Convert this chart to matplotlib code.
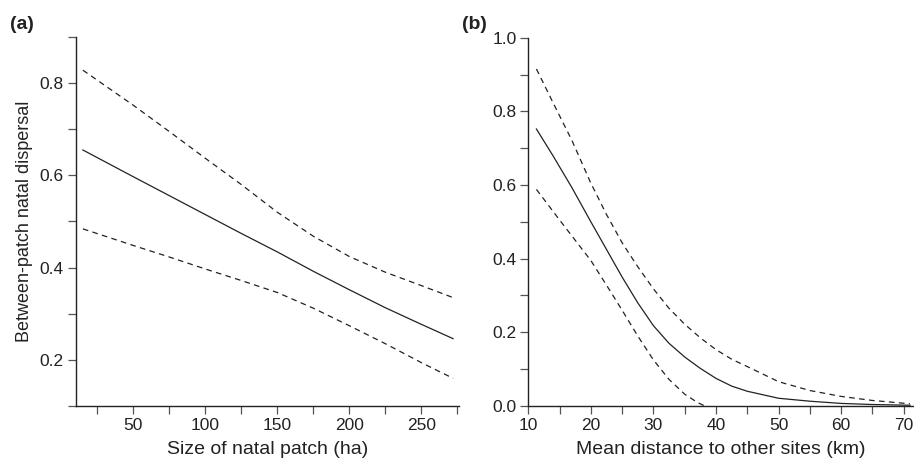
import numpy as np
import matplotlib.pyplot as plt
from matplotlib.ticker import MultipleLocator, FormatStrFormatter

plt.rcParams['font.family'] = ['Liberation Sans', 'DejaVu Sans']

# (a) patch size effect: fitted curve with upper / lower confidence limits
size_ha = np.array([15, 50, 75, 100, 125, 150, 175, 200, 225, 250, 272])
size_fit = np.array([0.655, 0.597, 0.556, 0.515, 0.474, 0.434, 0.392, 0.352, 0.313, 0.277, 0.246])
size_upper = np.array([0.828, 0.752, 0.695, 0.637, 0.58, 0.52, 0.468, 0.424, 0.39, 0.361, 0.335])
size_lower = np.array([0.484, 0.448, 0.423, 0.397, 0.372, 0.346, 0.312, 0.274, 0.235, 0.194, 0.160])

# (b) isolation effect
dist_km = np.array([11.3, 14, 17, 20, 22.5, 25, 27.5, 30, 32.5, 35, 37.5, 40, 42.5,
                    45, 50, 55, 60, 65, 71])
dist_fit = np.array([0.752, 0.678, 0.592, 0.50, 0.425, 0.35, 0.28, 0.218, 0.17, 0.133,
                     0.102, 0.075, 0.054, 0.04, 0.021, 0.013, 0.007, 0.004, 0.002])
dist_upper = np.array([0.915, 0.822, 0.72, 0.605, 0.52, 0.443, 0.378, 0.318, 0.265, 0.222,
                       0.185, 0.153, 0.127, 0.107, 0.066, 0.042, 0.026, 0.015, 0.006])
dist_lower_km = np.array([11.3, 13, 15, 17.5, 20, 22.5, 25, 27.5, 30, 32.5, 35, 37, 38.2])
dist_lower = np.array([0.588, 0.55, 0.505, 0.45, 0.395, 0.328, 0.26, 0.19, 0.125, 0.072,
                       0.032, 0.01, 0.0])

ink = '#222222'
lw = 0.9
dash = (4.5, 3.5)

fig = plt.figure(figsize=(9.14, 4.68), dpi=100)
ax1 = fig.add_axes([0.0828, 0.1325, 0.4192, 0.7885])
ax2 = fig.add_axes([0.578, 0.1325, 0.421, 0.787])

for ax in (ax1, ax2):
    for s in ('top', 'right'):
        ax.spines[s].set_visible(False)
    for s in ('left', 'bottom'):
        ax.spines[s].set_color(ink)
        ax.spines[s].set_linewidth(1.0)
    ax.tick_params(which='both', direction='out', length=5.5, width=0.9,
                   color='#555555', labelsize=12.5, labelcolor=ink, pad=3)

ax1.plot(size_ha, size_fit, color=ink, lw=lw)
ax1.plot(size_ha, size_upper, color=ink, lw=lw, ls=(0, dash))
ax1.plot(size_ha, size_lower, color=ink, lw=lw, ls=(0, dash))
ax1.set_xlim(10, 276)
ax1.set_ylim(0.1, 0.9)
ax1.xaxis.set_major_locator(MultipleLocator(50))
ax1.xaxis.set_minor_locator(MultipleLocator(25))
ax1.yaxis.set_major_locator(MultipleLocator(0.2))
ax1.yaxis.set_minor_locator(MultipleLocator(0.1))
ax1.yaxis.set_major_formatter(FormatStrFormatter('%.1f'))
ax1.set_xlabel('Size of natal patch (ha)', fontsize=14, color=ink, labelpad=6)
ax1.set_ylabel('Between-patch natal dispersal', fontsize=13, color=ink, labelpad=5)

ax2.plot(dist_km, dist_fit, color=ink, lw=lw)
ax2.plot(dist_km, dist_upper, color=ink, lw=lw, ls=(0, dash))
ax2.plot(dist_lower_km, dist_lower, color=ink, lw=lw, ls=(0, dash))
ax2.set_xlim(10, 71.5)
ax2.set_ylim(0, 1.0)
ax2.xaxis.set_major_locator(MultipleLocator(10))
ax2.xaxis.set_minor_locator(MultipleLocator(5))
ax2.yaxis.set_major_locator(MultipleLocator(0.2))
ax2.yaxis.set_minor_locator(MultipleLocator(0.1))
ax2.yaxis.set_major_formatter(FormatStrFormatter('%.1f'))
ax2.set_xlabel('Mean distance to other sites (km)', fontsize=14, color=ink, labelpad=6)

fig.text(0.011, 0.938, '(a)', fontsize=14, fontweight='bold', color=ink)
fig.text(0.506, 0.938, '(b)', fontsize=14, fontweight='bold', color=ink)

fig.savefig('out.png', dpi=100)
